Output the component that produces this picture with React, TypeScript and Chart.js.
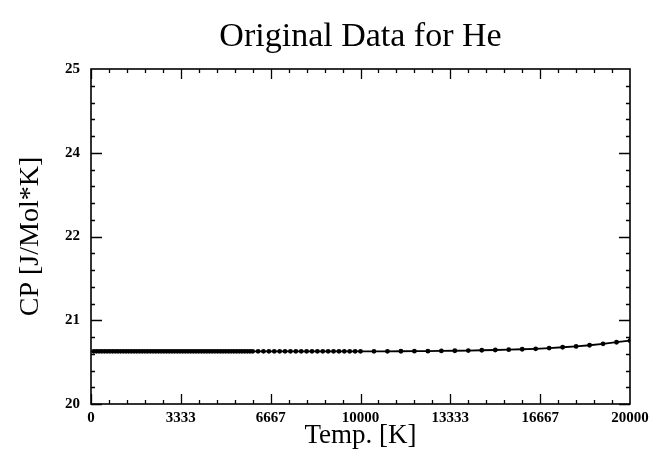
import { useEffect, useRef } from "react";
import { Chart, registerables } from "chart.js";

Chart.register(...registerables);

// Temperatures [K]
const tempsLow = [
  100, 200, 300, 400, 500, 600, 700, 800, 900, 1000,
  1100, 1200, 1300, 1400, 1500, 1600, 1700, 1800, 1900, 2000,
  2100, 2200, 2300, 2400, 2500, 2600, 2700, 2800, 2900, 3000,
  3100, 3200, 3300, 3400, 3500, 3600, 3700, 3800, 3900, 4000,
  4100, 4200, 4300, 4400, 4500, 4600, 4700, 4800, 4900, 5000,
  5100, 5200, 5300, 5400, 5500, 5600, 5700, 5800, 5900, 6000,
];
const tempsMid = [
  6200, 6400, 6600, 6800, 7000, 7200, 7400, 7600, 7800, 8000,
  8200, 8400, 8600, 8800, 9000, 9200, 9400, 9600, 9800, 10000,
];
const tempsHigh = [
  10500, 11000, 11500, 12000, 12500, 13000, 13500, 14000, 14500, 15000,
  15500, 16000, 16500, 17000, 17500, 18000, 18500, 19000, 19500, 20000,
];

// CP [J/Mol*K]
const cpLow = [
  20.786, 20.786, 20.786, 20.786, 20.786, 20.786, 20.786, 20.786, 20.786, 20.786,
  20.786, 20.786, 20.786, 20.786, 20.786, 20.786, 20.786, 20.786, 20.786, 20.786,
  20.786, 20.786, 20.786, 20.786, 20.786, 20.786, 20.786, 20.786, 20.786, 20.786,
  20.786, 20.786, 20.786, 20.786, 20.786, 20.786, 20.786, 20.786, 20.786, 20.786,
  20.786, 20.786, 20.786, 20.786, 20.786, 20.786, 20.786, 20.786, 20.786, 20.786,
  20.786, 20.786, 20.786, 20.786, 20.786, 20.786, 20.786, 20.786, 20.786, 20.786,
];
const cpMid = [
  20.786, 20.786, 20.786, 20.786, 20.786, 20.786, 20.786, 20.786, 20.786, 20.786,
  20.786, 20.786, 20.786, 20.786, 20.786, 20.786, 20.786, 20.786, 20.786, 20.786,
];
const cpHigh = [
  20.786, 20.786, 20.787, 20.788, 20.789, 20.792, 20.795, 20.798, 20.802, 20.806,
  20.811, 20.817, 20.824, 20.834, 20.847, 20.860, 20.877, 20.898, 20.922, 20.945,
];

const xTickValues = [0, 3333.333, 6666.667, 10000, 13333.333, 16666.667, 20000];
const xTickLabels = ["0", "3333", "6667", "10000", "13333", "16667", "20000"];
const yTickValues = [20, 21.25, 22.5, 23.75, 25];
const yTickLabels = ["20", "21", "22", "24", "25"];
const minorDivisions = 5;

const frameTicks = {
  id: "frameTicks",
  afterDraw(chart: any) {
    const { ctx, chartArea: a, scales } = chart;
    const xs = scales.x;
    const ys = scales.y;
    ctx.save();
    ctx.strokeStyle = "#000";
    ctx.lineWidth = 1.6;
    ctx.strokeRect(a.left, a.top, a.right - a.left, a.bottom - a.top);
    ctx.lineWidth = 1.3;
    ctx.beginPath();
    for (let i = 0; i < xTickValues.length - 1; i++) {
      for (let k = 0; k < minorDivisions; k++) {
        const v = xTickValues[i] + ((xTickValues[i + 1] - xTickValues[i]) * k) / minorDivisions;
        const px = Math.round(xs.getPixelForValue(v)) + 0.5;
        const len = k === 0 ? 10 : 4;
        ctx.moveTo(px, a.bottom);
        ctx.lineTo(px, a.bottom - len);
        ctx.moveTo(px, a.top);
        ctx.lineTo(px, a.top + len);
      }
    }
    for (let i = 0; i < yTickValues.length - 1; i++) {
      for (let k = 0; k < minorDivisions; k++) {
        const v = yTickValues[i] + ((yTickValues[i + 1] - yTickValues[i]) * k) / minorDivisions;
        const py = Math.round(ys.getPixelForValue(v)) + 0.5;
        const len = k === 0 ? 11 : 4;
        ctx.moveTo(a.left, py);
        ctx.lineTo(a.left + len, py);
        ctx.moveTo(a.right, py);
        ctx.lineTo(a.right - len, py);
      }
    }
    ctx.stroke();
    ctx.restore();
  },
};

export default function App() {
  const canvasRef = useRef<HTMLCanvasElement | null>(null);

  useEffect(() => {
    const canvas = canvasRef.current;
    if (!canvas) return;
    const serif = "'Liberation Serif', 'Times New Roman', serif";
    Chart.defaults.font.family = serif;
    Chart.defaults.color = "#000";

    const temps = [...tempsLow, ...tempsMid, ...tempsHigh];
    const cps = [...cpLow, ...cpMid, ...cpHigh];
    const points = temps.map((t, i) => ({ x: t, y: cps[i] }));

    const chart = new Chart(canvas, {
      type: "line",
      data: {
        datasets: [
          {
            data: points,
            borderColor: "#000",
            backgroundColor: "#000",
            borderWidth: 1.8,
            pointRadius: 2.4,
            pointBorderWidth: 0,
            pointBackgroundColor: "#000",
            tension: 0,
          },
        ],
      },
      plugins: [frameTicks],
      options: {
        responsive: false,
        animation: false,
        layout: { padding: { left: 0, right: 24, top: 0, bottom: 0 } },
        plugins: {
          legend: { display: false },
          tooltip: { enabled: false },
          title: {
            display: true,
            text: "Original Data for He",
            fullSize: false,
            color: "#000",
            font: { family: serif, size: 34, weight: "normal", lineHeight: 1.2 },
            padding: { top: 17, bottom: 11.2 },
          },
        },
        scales: {
          x: {
            type: "linear",
            min: 0,
            max: 20000,
            afterBuildTicks: (scale: any) => {
              scale.ticks = xTickValues.map((v) => ({ value: v }));
            },
            afterFit: (scale: any) => {
              scale.height = 55;
            },
            ticks: {
              autoSkip: false,
              maxRotation: 0,
              padding: 5,
              font: { family: serif, size: 15, weight: "bold" },
              callback: (_v: any, i: number) => xTickLabels[i],
            },
            grid: { display: false, drawTicks: false },
            border: { display: false },
            title: {
              display: true,
              text: "Temp. [K]",
              color: "#000",
              font: { family: serif, size: 27, weight: "normal", lineHeight: 1.2 },
              padding: { top: 0, bottom: 7 },
            },
          },
          y: {
            type: "linear",
            min: 20,
            max: 25,
            afterBuildTicks: (scale: any) => {
              scale.ticks = yTickValues.map((v) => ({ value: v }));
            },
            afterFit: (scale: any) => {
              scale.width = 91;
            },
            ticks: {
              autoSkip: false,
              padding: 11,
              font: { family: serif, size: 15, weight: "bold" },
              callback: (_v: any, i: number) => yTickLabels[i],
            },
            grid: { display: false, drawTicks: false },
            border: { display: false },
            title: {
              display: true,
              text: "CP [J/Mol*K]",
              color: "#000",
              font: { family: serif, size: 28, weight: "normal", lineHeight: 1.2 },
              padding: { top: 14, bottom: 0 },
            },
          },
        },
      },
    });

    return () => chart.destroy();
  }, []);

  return (
    <div style={{ position: "fixed", left: 0, top: 0, width: 654, height: 459, background: "#fff" }}>
      <canvas ref={canvasRef} width={654} height={459} style={{ display: "block" }} />
    </div>
  );
}
